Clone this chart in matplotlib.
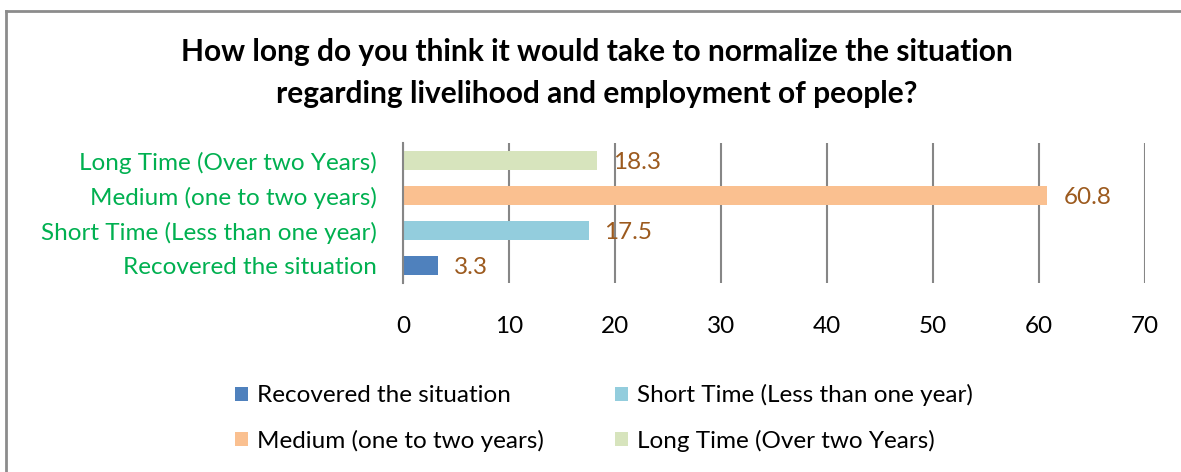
import numpy as np
import matplotlib.pyplot as plt
from matplotlib.patches import Patch
from matplotlib.lines import Line2D

# data
categories = ['Recovered the situation',
              'Short Time (Less than one year)',
              'Medium (one to two years)',
              'Long Time (Over two Years)']
values = [3.3, 17.5, 60.8, 18.3]
colors = ['#4F81BD', '#93CDDD', '#FAC090', '#D7E4BD']
xticks = [0, 10, 20, 30, 40, 50, 60, 70]

title = ('How long do you think it would take to normalize the situation\n'
         'regarding livelihood and employment of people?')

plt.rcParams['font.family'] = ['Lato', 'DejaVu Sans']
FS = 17.5

fig = plt.figure(figsize=(11.81, 4.72), dpi=100)
ax = fig.add_axes([403/1181, 1 - 283/472, (1145 - 403)/1181, 140/472])

y = np.arange(len(categories))
for i, (cat, val, col) in enumerate(zip(categories, values, colors)):
    ax.barh(y[i], val, height=0.57, color=col, label=cat, zorder=2)
    ax.text(val + 1.5, y[i] - 0.05, '%.1f' % val, va='center', ha='left',
            color='#9C5A1E', fontsize=FS, zorder=3)

ax.set_xlim(0, 70)
ax.set_ylim(-0.5, 3.5)
ax.set_xticks(xticks)
ax.set_yticks(y)
ax.set_yticklabels(categories, color='#00B050', fontsize=FS)
ax.tick_params(axis='x', length=0, pad=24, labelsize=FS)
ax.tick_params(axis='y', length=0, pad=19)
ax.xaxis.grid(True, color='#868686', linewidth=1.5, zorder=0)
for side in ['top', 'right', 'bottom']:
    ax.spines[side].set_visible(False)
ax.spines['left'].set_color('#868686')
ax.spines['left'].set_linewidth(1.5)

fig.text(597/1181, 1 - 73/472, title, ha='center', va='center',
         fontsize=21.5, fontweight='bold', linespacing=1.6)

# legend: row 1 recovered/short, row 2 medium/long (column-major fill)
order = [0, 2, 1, 3]
handles = [Patch(facecolor=colors[k]) for k in order]
labels = [categories[k] for k in order]
fig.legend(handles, labels, ncol=2, loc='center left',
           bbox_to_anchor=(235/1181, 1 - 418/472), frameon=False,
           fontsize=FS, handlelength=0.53, handleheight=0.53,
           handletextpad=0.37, columnspacing=2.95, labelspacing=0.95,
           borderpad=0, borderaxespad=0)

# chart border (top and left visible in the crop)
fig.add_artist(Line2D([6/1181, 1], [1 - 11/472, 1 - 11/472],
                      transform=fig.transFigure, color='#8C8C8C', lw=2))
fig.add_artist(Line2D([6/1181, 6/1181], [0, 1 - 11/472],
                      transform=fig.transFigure, color='#8C8C8C', lw=2))

fig.savefig('out.png', dpi=100)
